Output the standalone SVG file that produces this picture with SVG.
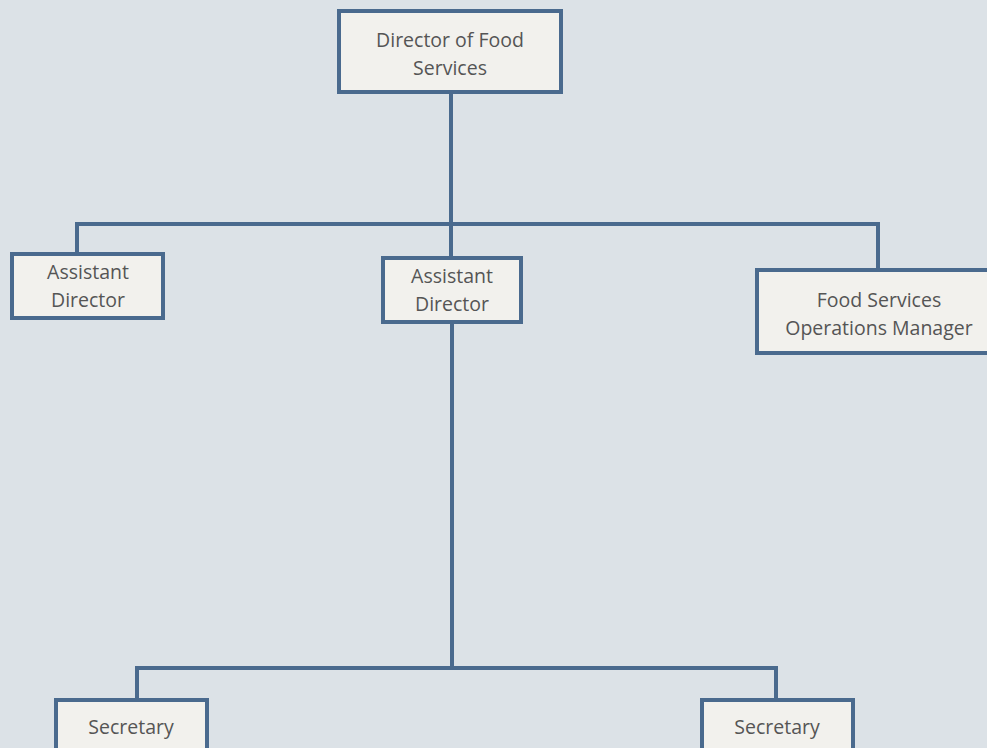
<svg xmlns="http://www.w3.org/2000/svg" width="987" height="748" viewBox="0 0 987 748">
  <style>
    .box { fill: #f2f1ed; stroke: #4a6a8e; stroke-width: 4; }
    .line { fill: none; stroke: #4a6a8e; stroke-width: 4; }
    .lbl { font-family: "Open Sans", "Liberation Sans", sans-serif; font-size: 19.5px; fill: #555; text-anchor: middle; }
  </style>
  <rect width="987" height="748" fill="#dce2e7"/>
  <g id="connectors">
    <path class="line" d="M451 92 V258"/>
    <path class="line" d="M77 254 V224 H878 V270"/>
    <path class="line" d="M452 322 V668"/>
    <path class="line" d="M137 700 V668 H776 V700"/>
  </g>
  <g id="director">
    <rect class="box" x="339" y="11" width="222" height="81"/>
    <text class="lbl" x="450" y="47">Director of Food</text>
    <text class="lbl" x="450" y="75">Services</text>
  </g>
  <g id="assistant-left">
    <rect class="box" x="12" y="254" width="151" height="64"/>
    <text class="lbl" x="88" y="279">Assistant</text>
    <text class="lbl" x="88" y="307">Director</text>
  </g>
  <g id="assistant-center">
    <rect class="box" x="383" y="258" width="138" height="64"/>
    <text class="lbl" x="452" y="283">Assistant</text>
    <text class="lbl" x="452" y="311">Director</text>
  </g>
  <g id="ops-manager">
    <rect class="box" x="757" y="270" width="240" height="83"/>
    <text class="lbl" x="879" y="307">Food Services</text>
    <text class="lbl" x="879" y="335">Operations Manager</text>
  </g>
  <g id="secretary-left">
    <rect class="box" x="56" y="700" width="151" height="60"/>
    <text class="lbl" x="131" y="734">Secretary</text>
  </g>
  <g id="secretary-right">
    <rect class="box" x="702" y="700" width="151" height="60"/>
    <text class="lbl" x="777" y="734">Secretary</text>
  </g>
</svg>
